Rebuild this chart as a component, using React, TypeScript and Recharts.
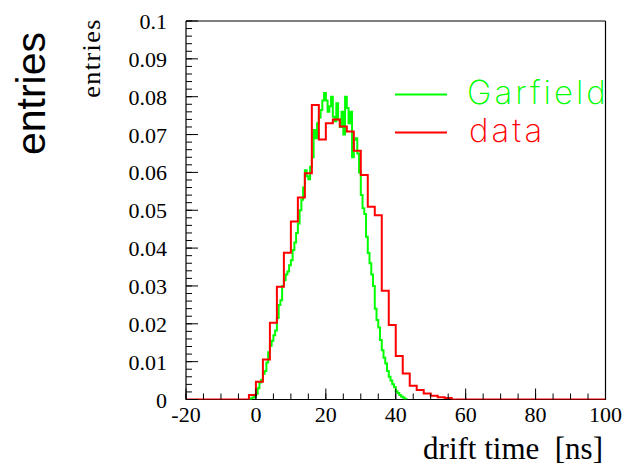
import React from 'react';
import { LineChart, Line, XAxis, YAxis, ReferenceLine } from 'recharts';

// ---- data ----
const RED_FIRST_EDGE = -2;
const RED_BIN = 2;
const redValues = [
  0.0012, 0.0047, 0.0106, 0.0203, 0.0298, 0.0388, 0.047, 0.0534, 0.0598, 0.0778,
  0.0687, 0.073, 0.074, 0.0721, 0.0708, 0.0657, 0.0593, 0.0509, 0.0487, 0.0287,
  0.0197, 0.0115, 0.0069, 0.0036, 0.0025, 0.0016, 0.001, 0.0006, 0.0004,
];

const GREEN_FIRST_EDGE = -2;
const GREEN_BIN = 0.5;
const greenValues = [
  0, 0.0003, 0.0005, 0.0008, 0.0015, 0.003, 0.0045, 0.0052, 0.0068, 0.0075,
  0.0098, 0.0125, 0.0142, 0.0155, 0.017, 0.0182, 0.0215, 0.025, 0.0262, 0.03,
  0.0315, 0.033, 0.0338, 0.0355, 0.0368, 0.0395, 0.0415, 0.044, 0.0465, 0.05,
  0.0528, 0.056, 0.0606, 0.059, 0.0582, 0.0615, 0.064, 0.0712, 0.069, 0.073,
  0.0745, 0.0765, 0.079, 0.081, 0.079, 0.076, 0.0775, 0.08, 0.0747, 0.0735,
  0.0783, 0.074, 0.072, 0.076, 0.07, 0.08, 0.077, 0.073, 0.076, 0.064,
  0.0686, 0.069, 0.065, 0.06, 0.054, 0.0505, 0.049, 0.043, 0.0387, 0.036,
  0.033, 0.03, 0.024, 0.021, 0.019, 0.0157, 0.013, 0.011, 0.0095, 0.0075,
  0.006, 0.005, 0.004, 0.0033, 0.0022, 0.0017, 0.0012, 0.0008, 0.0005, 0.0002,
  0,
];

const xMajorTicks = [-20, 0, 20, 40, 60, 80, 100];
const xTickLabels = ['-20', '0', '20', '40', '60', '80', '100'];
const yMajorTicks = [0, 0.01, 0.02, 0.03, 0.04, 0.05, 0.06, 0.07, 0.08, 0.09, 0.1];
const yTickLabels = ['0', '0.01', '0.02', '0.03', '0.04', '0.05', '0.06', '0.07', '0.08', '0.09', '0.1'];
const seriesNames = ['Garfield', 'data'];
const xTitle = 'drift time  [ns]';
const yTitle = 'entries';
const bigTitle = 'entries';

// ---- derived tables ----
const redData = [
  { x: -20, y: 0 },
  ...redValues.map((v, i) => ({ x: RED_FIRST_EDGE + RED_BIN * i, y: v })),
  { x: RED_FIRST_EDGE + RED_BIN * redValues.length, y: 0 },
  { x: 100, y: 0 },
];
const greenData = greenValues.map((v, i) => ({ x: GREEN_FIRST_EDGE + GREEN_BIN * i, y: v }));

const xMinorTicks: number[] = [];
for (let i = 0; i <= 24; i++) xMinorTicks.push(-20 + 5 * i);
const yMinorTicks: number[] = [];
for (let i = 0; i <= 50; i++) yMinorTicks.push(Number((i * 0.002).toFixed(3)));

const SERIF = '"Liberation Serif", "DejaVu Serif", serif';
const X_MAJOR_LEN = 11;
const Y_MAJOR_LEN = 12;

const majorIndex = (list: number[], v: number) => list.findIndex((m) => Math.abs(m - v) < 1e-6);

const EmptyTick = () => <g />;

const XTick = (props: any) => {
  const { x, y, payload } = props;
  const idx = majorIndex(xMajorTicks, payload.value);
  if (idx < 0) return <g />;
  return (
    <text x={x} y={y + X_MAJOR_LEN + 22} textAnchor="middle" fontFamily={SERIF} fontSize={22} fill="#000">
      {xTickLabels[idx]}
    </text>
  );
};

const YTick = (props: any) => {
  const { x, y, payload } = props;
  const idx = majorIndex(yMajorTicks, payload.value);
  if (idx < 0) return <g />;
  return (
    <text x={x - Y_MAJOR_LEN - 19} y={y + 8} textAnchor="end" fontFamily={SERIF} fontSize={22} fill="#000">
      {yTickLabels[idx]}
    </text>
  );
};

const Overlay = () => (
  <svg width={625} height={467} style={{ position: 'absolute', left: 0, top: 0, pointerEvents: 'none' }}>
    <text
      transform="translate(45,32) rotate(-90)"
      textAnchor="end"
      fontFamily='"Liberation Sans", Arial, sans-serif'
      fontSize={41}
      fill="#000"
    >
      {bigTitle}
    </text>
    <text
      transform="translate(100,18) rotate(-90)"
      textAnchor="end"
      fontFamily={SERIF}
      fontSize={26}
      letterSpacing={1.5}
      fill="#000"
    >
      {yTitle}
    </text>
    <text x={603} y={459} textAnchor="end" fontFamily={SERIF} fontSize={31} fill="#000" style={{ whiteSpace: 'pre' }}>
      {xTitle}
    </text>
    <line x1={395} x2={447} y1={94.5} y2={94.5} stroke="#00ff00" strokeWidth={2} />
    <text x={467} y={103.5} fontFamily="Inter, sans-serif" fontWeight={200} fontSize={33} letterSpacing={3} fill="#00ff00">
      {seriesNames[0]}
    </text>
    <line x1={395} x2={447} y1={132.5} y2={132.5} stroke="#ff0000" strokeWidth={2} />
    <text x={469} y={141.5} fontFamily="Inter, sans-serif" fontWeight={200} fontSize={33} letterSpacing={3} fill="#ff0000">
      {seriesNames[1]}
    </text>
  </svg>
);

export default function App() {
  return (
    <div style={{ position: 'absolute', left: 0, top: 0, width: 625, height: 467, background: '#fff' }}>
      <LineChart width={625} height={467} margin={{ top: 21, right: 19.5, bottom: 0, left: 0 }}>
        <XAxis
          type="number"
          dataKey="x"
          domain={[-20, 100]}
          ticks={xMajorTicks}
          interval={0}
          allowDataOverflow
          axisLine={false}
          stroke="#000"
          tickLine={{ stroke: '#000', strokeWidth: 1 }}
          tickSize={-X_MAJOR_LEN}
          tickMargin={0}
          height={67.5}
          tick={<XTick />}
        />
        <XAxis
          xAxisId="minor"
          type="number"
          dataKey="x"
          domain={[-20, 100]}
          ticks={xMinorTicks}
          interval={0}
          allowDataOverflow
          mirror
          axisLine={false}
          stroke="#000"
          tickLine={{ stroke: '#000', strokeWidth: 1 }}
          tickSize={6}
          tick={<EmptyTick />}
        />
        <YAxis
          type="number"
          dataKey="y"
          domain={[0, 0.1]}
          ticks={yMajorTicks}
          interval={0}
          allowDataOverflow
          axisLine={false}
          stroke="#000"
          tickLine={{ stroke: '#000', strokeWidth: 1 }}
          tickSize={-Y_MAJOR_LEN}
          tickMargin={0}
          width={186}
          tick={<YTick />}
        />
        <YAxis
          yAxisId="minor"
          type="number"
          dataKey="y"
          domain={[0, 0.1]}
          ticks={yMinorTicks}
          interval={0}
          allowDataOverflow
          mirror
          axisLine={false}
          stroke="#000"
          tickLine={{ stroke: '#000', strokeWidth: 1 }}
          tickSize={6}
          tick={<EmptyTick />}
        />
        <ReferenceLine x={-20} stroke="#000" strokeWidth={1.2} ifOverflow="visible" />
        <ReferenceLine x={100} stroke="#000" strokeWidth={1.2} ifOverflow="visible" />
        <ReferenceLine y={0.1} stroke="#000" strokeWidth={1.2} ifOverflow="visible" />
        <ReferenceLine y={0} stroke="#000" strokeWidth={1.2} ifOverflow="visible" />
        <Line
          data={greenData}
          dataKey="y"
          type="stepAfter"
          stroke="#00ff00"
          strokeWidth={2}
          dot={false}
          isAnimationActive={false}
          name={seriesNames[0]}
        />
        <Line
          data={redData}
          dataKey="y"
          type="stepAfter"
          stroke="#ff0000"
          strokeWidth={2}
          dot={false}
          isAnimationActive={false}
          name={seriesNames[1]}
        />
      </LineChart>
      <Overlay />
    </div>
  );
}
